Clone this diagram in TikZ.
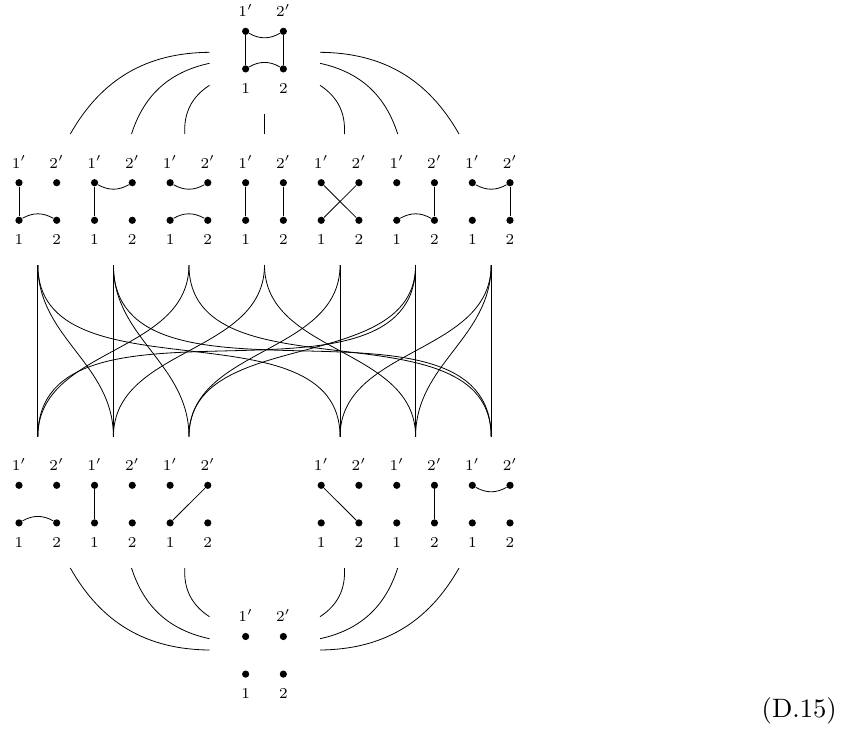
\documentclass[tikz,border=0pt]{standalone}

\tikzset{
    vtx/.style={circle, fill=black, inner sep=0pt, minimum size=3.6pt},
    lab/.style={anchor=base, inner sep=0pt, font=\scriptsize, scale=1.08},
    flow/.style={out=-90, in=90}
}

% four dots with their labels, #1 = name, (#2,#3) = position of the dot 1'
\newcommand{\partcell}[3]{
    \node[vtx] (#1-1p) at (#2,#3) {};
    \node[vtx] (#1-2p) at (#2+37.7,#3) {};
    \node[vtx] (#1-1) at (#2,#3-37.6) {};
    \node[vtx] (#1-2) at (#2+37.7,#3-37.6) {};
    \node[lab] (#1-l1p) at (#2,#3+14.6) {$1'$};
    \node[lab] (#1-l2p) at (#2+37.7,#3+14.6) {$2'$};
    \node[lab] (#1-l1) at (#2,#3-62) {$1$};
    \node[lab] (#1-l2) at (#2+37.7,#3-62) {$2$};
}

\begin{document}
\begin{tikzpicture}[x=0.5pt, y=0.5pt]

    \useasboundingbox (0,0) rectangle (850,-729);

    % The top graph
    \partcell{top}{245.65}{-31.3}
    \draw (top-1p) -- (top-1);
    \draw (top-2p) -- (top-2);
    \draw (top-1p) to[bend right=30] (top-2p);
    \draw (top-1) to[bend left=30] (top-2);

    % The second row
    \partcell{ma}{19}{-182.7}
    \draw (ma-1p) -- (ma-1);
    \draw (ma-1) to[bend left=30] (ma-2);

    \partcell{mb}{94.55}{-182.7}
    \draw (mb-1p) -- (mb-1);
    \draw (mb-1p) to[bend right=30] (mb-2p);

    \partcell{mc}{170.1}{-182.7}
    \draw (mc-1p) to[bend right=30] (mc-2p);
    \draw (mc-1) to[bend left=30] (mc-2);

    \partcell{md}{245.65}{-182.7}
    \draw (md-1p) -- (md-1);
    \draw (md-2p) -- (md-2);

    \partcell{me}{321.2}{-182.7}
    \draw (me-1p) -- (me-2);
    \draw (me-2p) -- (me-1);

    \partcell{mf}{396.75}{-182.7}
    \draw (mf-2p) -- (mf-2);
    \draw (mf-1) to[bend left=30] (mf-2);

    \partcell{mg}{472.3}{-182.7}
    \draw (mg-2p) -- (mg-2);
    \draw (mg-1p) to[bend right=30] (mg-2p);

    % The third row
    \partcell{la}{19}{-485.3}
    \draw (la-1) to[bend left=30] (la-2);

    \partcell{lb}{94.55}{-485.3}
    \draw (lb-1p) -- (lb-1);

    \partcell{lc}{170.1}{-485.3}
    \draw (lc-1) -- (lc-2p);

    \partcell{le}{321.2}{-485.3}
    \draw (le-1p) -- (le-2);

    \partcell{lf}{396.75}{-485.3}
    \draw (lf-2p) -- (lf-2);

    \partcell{lg}{472.3}{-485.3}
    \draw (lg-1p) to[bend right=30] (lg-2p);

    % The bottom graph
    \partcell{bot}{245.65}{-636.5}

    % Ends of the connectors below the top graph
    \coordinate (ta) at (209.5,-52.3);
    \coordinate (tb) at (209.5,-63.3);
    \coordinate (tc) at (209.5,-85.3);
    \coordinate (td) at (264.5,-114);
    \coordinate (te) at (320,-85.3);
    \coordinate (tf) at (320,-63.3);
    \coordinate (tg) at (320,-52.3);

    \coordinate (sa) at (70.3,-134);
    \coordinate (sb) at (131.5,-134);
    \coordinate (sc) at (184.8,-134);
    \coordinate (sd) at (264.5,-134);
    \coordinate (se) at (344.4,-134);
    \coordinate (sf) at (397.7,-134);
    \coordinate (sg) at (459,-134);

    \draw (ta) to[bend right=30] (sa);
    \draw (tb) to[bend right=30] (sb);
    \draw (tc) to[bend right=30] (sc);
    \draw (td) -- (sd);
    \draw (te) to[bend left=30] (se);
    \draw (tf) to[bend left=30] (sf);
    \draw (tg) to[bend left=30] (sg);

    % Ends of the connectors in the middle
    \coordinate (ua) at (37.85,-265);
    \coordinate (ub) at (113.4,-265);
    \coordinate (uc) at (188.95,-265);
    \coordinate (ud) at (264.5,-265);
    \coordinate (ue) at (340.05,-265);
    \coordinate (uf) at (415.6,-265);
    \coordinate (ug) at (491.15,-265);

    \coordinate (da) at (37.85,-436.7);
    \coordinate (db) at (113.4,-436.7);
    \coordinate (dc) at (188.95,-436.7);
    \coordinate (de) at (340.05,-436.7);
    \coordinate (df) at (415.6,-436.7);
    \coordinate (dg) at (491.15,-436.7);

    \draw (ua) -- (da);
    \draw (ua) to[flow] (db);
    \draw (ua) to[flow] (de);

    \draw (ub) -- (db);
    \draw (ub) to[flow] (dc);
    \draw (ub) to[flow] (dg);

    \draw (uc) to[flow] (da);
    \draw (uc) to[flow] (dg);

    \draw (ud) to[flow] (db);
    \draw (ud) to[flow] (df);

    \draw (ue) -- (de);
    \draw (ue) to[flow] (dc);

    \draw (uf) -- (df);
    \draw (uf) to[flow] (da);
    \draw (uf) to[flow] (dc);

    \draw (ug) -- (dg);
    \draw (ug) to[flow] (de);
    \draw (ug) to[flow] (df);

    % Ends of the connectors above the bottom graph
    \coordinate (ra) at (70.3,-568);
    \coordinate (rb) at (131.5,-568);
    \coordinate (rc) at (184.8,-568);
    \coordinate (re) at (344.4,-568);
    \coordinate (rf) at (397.7,-568);
    \coordinate (rg) at (459,-568);

    \coordinate (qa) at (209.5,-650);
    \coordinate (qb) at (209.5,-638.7);
    \coordinate (qc) at (209.5,-616.7);
    \coordinate (qe) at (320,-616.7);
    \coordinate (qf) at (320,-638.7);
    \coordinate (qg) at (320,-650);

    \draw (qa) to[bend left=30] (ra);
    \draw (qb) to[bend left=30] (rb);
    \draw (qc) to[bend left=30] (rc);
    \draw (qe) to[bend right=30] (re);
    \draw (qf) to[bend right=30] (rf);
    \draw (qg) to[bend right=30] (rg);

    % The equation number
    \node[font=\normalsize, scale=1.33] (eqnum) at (799.2,-711) {(D.15)};

\end{tikzpicture}
\end{document}
